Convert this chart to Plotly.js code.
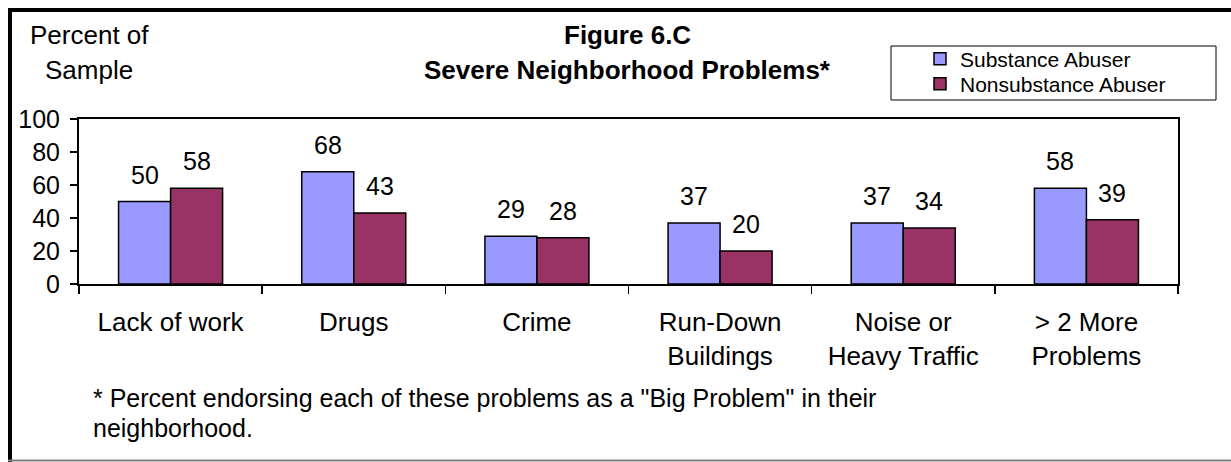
<!DOCTYPE html>
<html>
<head>
<meta charset="utf-8">
<script src="https://cdn.plot.ly/plotly-3.0.1.min.js"></script>
<style>html,body{margin:0;padding:0;background:#fff;}#chart{width:1231px;height:462px;}</style>
</head>
<body>
<div id="chart"></div>
<script>
const categories = ["Lack of work", "Drugs", "Crime", "Run-Down Buildings", "Noise or Heavy Traffic", "> 2 More Problems"];
const tickLabels = ["Lack of work", "Drugs", "Crime", "Run-Down<br>Buildings", "Noise or<br>Heavy Traffic", "> 2 More<br>Problems"];
const substanceAbuser = [50, 68, 29, 37, 37, 58];
const nonsubstanceAbuser = [58, 43, 28, 20, 34, 39];
const seriesNames = ["Substance Abuser", "Nonsubstance Abuser"];
const seriesColors = ["#9999FF", "#993366"];

const W = 1231, H = 462;
const M = {l: 79, r: 53, t: 119, b: 178};
const PW = W - M.l - M.r, PH = H - M.t - M.b;
const px = x => (x - M.l) / PW;
const py = y => (H - M.b - y) / PH;
const FONT = "Liberation Sans, Arial, sans-serif";

const traces = [substanceAbuser, nonsubstanceAbuser].map((vals, i) => ({
  type: "bar",
  name: seriesNames[i],
  x: categories,
  y: vals,
  legend: i === 0 ? "legend" : "legend2",
  marker: {color: seriesColors[i], line: {color: "#000", width: 1.5}},
  hoverinfo: "skip"
}));

const annotations = [];
[substanceAbuser, nonsubstanceAbuser].forEach((vals, i) => {
  vals.forEach((v, j) => {
    annotations.push({
      x: categories[j], y: v, xref: "x", yref: "y",
      xshift: i === 0 ? -26 : 26, yshift: 11,
      yanchor: "bottom", showarrow: false,
      text: String(v), font: {family: FONT, size: 25, color: "#000"}
    });
  });
});
// y-axis title (two lines, centered)
annotations.push({xref: "paper", yref: "paper", x: px(89), y: py(35), xanchor: "center", yanchor: "middle",
  showarrow: false, text: "Percent of", font: {family: FONT, size: 26, color: "#000"}});
annotations.push({xref: "paper", yref: "paper", x: px(89), y: py(70), xanchor: "center", yanchor: "middle",
  showarrow: false, text: "Sample", font: {family: FONT, size: 26, color: "#000"}});
// footnote
annotations.push({xref: "paper", yref: "paper", x: px(91), y: py(398), xanchor: "left", yanchor: "middle",
  showarrow: false, text: "* Percent endorsing each of these problems as a \"Big Problem\" in their", font: {family: FONT, size: 25, color: "#000"}});
annotations.push({xref: "paper", yref: "paper", x: px(91), y: py(428), xanchor: "left", yanchor: "middle",
  showarrow: false, text: "neighborhood.", font: {family: FONT, size: 25, color: "#000"}});
// title lines
annotations.push({xref: "paper", yref: "paper", x: px(627), y: py(35), xanchor: "center", yanchor: "middle",
  showarrow: false, text: "<b>Figure 6.C</b>", font: {family: FONT, size: 26, color: "#000"}});
annotations.push({xref: "paper", yref: "paper", x: px(627), y: py(70), xanchor: "center", yanchor: "middle",
  showarrow: false, text: "<b>Severe Neighborhood Problems*</b>", font: {family: FONT, size: 26, color: "#000"}});

const shapes = [
  {type: "line", xref: "paper", yref: "paper", x0: px(10), x1: px(10), y0: py(8), y1: py(462), line: {color: "#000", width: 4}},
  {type: "line", xref: "paper", yref: "paper", x0: px(8), x1: px(1231), y0: py(10), y1: py(10), line: {color: "#000", width: 4}},
  {type: "line", xref: "paper", yref: "paper", x0: px(8), x1: px(1231), y0: py(460.5), y1: py(460.5), line: {color: "#808080", width: 2}},
  {type: "rect", xref: "paper", yref: "paper", x0: px(891), x1: px(1216), y0: py(46), y1: py(100), line: {color: "#000", width: 1}, fillcolor: "rgba(0,0,0,0)"}
];

const legendCommon = {xanchor: "left", yanchor: "middle", xref: "paper", yref: "paper",
  bgcolor: "rgba(0,0,0,0)", borderwidth: 0, font: {family: FONT, size: 21, color: "#000"}};

const layout = {
  width: W, height: H,
  margin: M,
  paper_bgcolor: "#fff", plot_bgcolor: "#fff",
  font: {family: FONT, size: 25, color: "#000"},
  barmode: "group", bargap: 0.432, bargroupgap: 0,
  showlegend: true,
  legend: Object.assign({x: px(920), y: py(59)}, legendCommon),
  legend2: Object.assign({x: px(920), y: py(84)}, legendCommon),
  xaxis: {
    type: "category", tickvals: categories, ticktext: tickLabels,
    showline: true, linecolor: "#000", linewidth: 2, mirror: true,
    ticks: "outside", tickson: "boundaries", ticklen: 8, tickcolor: "#000", tickwidth: 1.5,
    ticklabelstandoff: 14,
    tickfont: {family: FONT, size: 26, color: "#000"},
    showgrid: false, zeroline: false, fixedrange: true
  },
  yaxis: {
    range: [0, 100], dtick: 20, tick0: 0,
    showline: true, linecolor: "#000", linewidth: 2, mirror: true,
    ticks: "outside", ticklen: 7, tickcolor: "#000", tickwidth: 1.5,
    ticklabelstandoff: 5,
    tickfont: {family: FONT, size: 25, color: "#000"},
    showgrid: false, zeroline: false, fixedrange: true
  },
  annotations: annotations,
  shapes: shapes
};

Plotly.newPlot("chart", traces, layout, {displayModeBar: false, staticPlot: true});
</script>
</body>
</html>
